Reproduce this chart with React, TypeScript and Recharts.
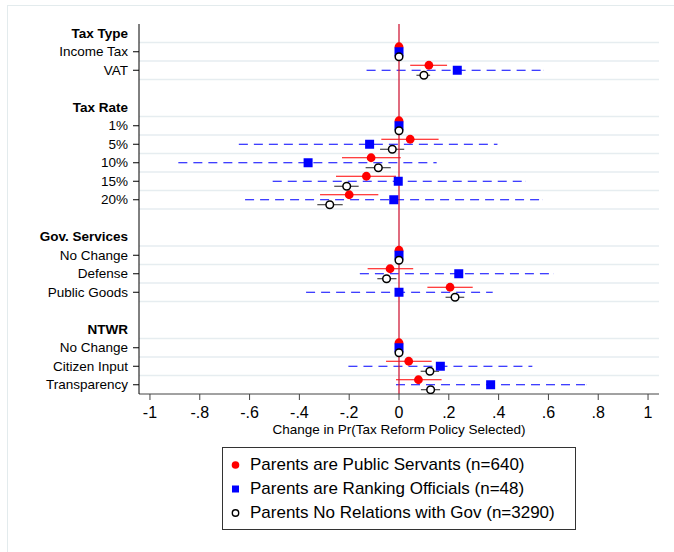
import React from 'react'
import { ScatterChart, Scatter, XAxis, YAxis, ErrorBar, ReferenceLine } from 'recharts'

// group headers and the rows under each one
const groupNames = ['Tax Type', 'Tax Rate', 'Gov. Services', 'NTWR']
const rowLabels = ['Income Tax', 'VAT', '1%', '5%', '10%', '15%', '20%', 'No Change', 'Defense', 'Public Goods', 'No Change', 'Citizen Input', 'Transparency']
const rowGroups = [0, 0, 1, 1, 1, 1, 1, 2, 2, 2, 3, 3, 3]

// Parents are Public Servants (n=640)
const servantEst = [0, 0.12, 0, 0.045, -0.112, -0.131, -0.2, 0, -0.036, 0.205, 0, 0.039, 0.078]
const servantLo = [0, 0.045, 0, -0.071, -0.229, -0.253, -0.317, 0, -0.126, 0.114, 0, -0.052, -0.012]
const servantHi = [0, 0.193, 0, 0.159, 0.007, -0.012, -0.083, 0, 0.057, 0.296, 0, 0.131, 0.171]

// Parents are Ranking Officials (n=48)
const officialEst = [0, 0.234, 0, -0.118, -0.365, -0.003, -0.021, 0, 0.24, 0, 0, 0.166, 0.368]
const officialLo = [0, -0.13, 0, -0.643, -0.886, -0.507, -0.618, 0, -0.157, -0.373, 0, -0.203, -0.012]
const officialHi = [0, 0.58, 0, 0.395, 0.151, 0.506, 0.577, 0, 0.62, 0.376, 0, 0.535, 0.751]

// Parents No Relations with Gov (n=3290)
const noRelEst = [0, 0.1, 0, -0.027, -0.083, -0.21, -0.278, 0, -0.05, 0.225, 0, 0.124, 0.127]
const noRelLo = [0, 0.07, 0, -0.076, -0.134, -0.26, -0.328, 0, -0.087, 0.187, 0, 0.087, 0.088]
const noRelHi = [0, 0.125, 0, 0.021, -0.033, -0.162, -0.226, 0, -0.01, 0.262, 0, 0.161, 0.165]

const xTicks = [-1, -0.8, -0.6, -0.4, -0.2, 0, 0.2, 0.4, 0.6, 0.8, 1]

const FONT = '"Liberation Sans", Arial, Helvetica, sans-serif'

// lay out slots: header, its rows, then a blank slot before the next group
const headerSlots: number[] = []
const rowSlots: number[] = []
let slot = 0
groupNames.forEach((_, g) => {
  headerSlots.push(slot)
  slot++
  rowGroups.forEach((rg) => {
    if (rg === g) {
      rowSlots.push(slot)
      slot++
    }
  })
  slot++
})
const lastSlot = slot - 2

const yTicks = [...headerSlots, ...rowSlots].sort((a, b) => a - b)
const tickText: Record<number, { text: string; header: boolean }> = {}
headerSlots.forEach((s, i) => (tickText[s] = { text: groupNames[i], header: true }))
rowSlots.forEach((s, i) => (tickText[s] = { text: rowLabels[i], header: false }))

// light lines below each header and each row
const gridLines = yTicks.filter((s) => s < lastSlot).map((s) => s + 0.5)

const makeSeries = (est: number[], lo: number[], hi: number[], shift: number) =>
  est.map((v, i) => ({ x: v, y: rowSlots[i] + shift, err: [v - lo[i], hi[i] - v] }))

const servantData = makeSeries(servantEst, servantLo, servantHi, -0.27)
const officialData = makeSeries(officialEst, officialLo, officialHi, 0)
const noRelData = makeSeries(noRelEst, noRelLo, noRelHi, 0.27)

const fmtX = (v: number) => {
  if (v === 0) return '0'
  if (Math.abs(v) === 1) return v < 0 ? '-1' : '1'
  return (v < 0 ? '-' : '') + Math.abs(v).toFixed(1).replace(/^0/, '')
}

const YTick = (props: any) => {
  const { x, y, payload } = props
  const info = tickText[payload.value]
  if (!info) return null
  return (
    <g>
      {!info.header && <line x1={x} x2={x + 6} y1={y} y2={y} stroke="#000" />}
      <text
        x={x - 5}
        y={y}
        dy="0.35em"
        textAnchor="end"
        fontSize={13.5}
        fontWeight={info.header ? 'bold' : 'normal'}
        fill="#000"
      >
        {info.text}
      </text>
    </g>
  )
}

const RedDot = (p: any) => <circle cx={p.cx} cy={p.cy} r={4.4} fill="#ff0000" />
const BlueSquare = (p: any) => <rect x={p.cx - 4.5} y={p.cy - 4.5} width={9} height={9} fill="#0000ff" />
const HollowDot = (p: any) => <circle cx={p.cx} cy={p.cy} r={3.8} fill="#fff" stroke="#000" strokeWidth={1.5} />

const legendItems = [
  { label: 'Parents are Public Servants (n=640)', kind: 'dot' },
  { label: 'Parents are Ranking Officials (n=48)', kind: 'square' },
  { label: 'Parents No Relations with Gov (n=3290)', kind: 'hollow' },
]

function LegendBox() {
  return (
    <div
      style={{
        position: 'absolute',
        left: 222,
        top: 447,
        width: 352,
        height: 81,
        border: '1px solid #333',
        background: '#fff',
      }}
    >
      {legendItems.map((item, i) => (
        <div
          key={item.label}
          style={{ position: 'absolute', left: 0, top: 5 + i * 24, height: 24, display: 'flex', alignItems: 'center' }}
        >
          <svg width={26} height={24} style={{ display: 'block' }}>
            {item.kind === 'dot' && <circle cx={12.5} cy={12} r={3.8} fill="#ff0000" />}
            {item.kind === 'square' && <rect x={9} y={8.5} width={7} height={7} fill="#0000ff" />}
            {item.kind === 'hollow' && <circle cx={12.5} cy={12} r={3.2} fill="#fff" stroke="#000" strokeWidth={1.4} />}
          </svg>
          <span style={{ fontSize: 17, color: '#000', whiteSpace: 'nowrap', marginLeft: 1 }}>{item.label}</span>
        </div>
      ))}
    </div>
  )
}

export default function App() {
  return (
    <div
      style={{
        position: 'absolute',
        left: 0,
        top: 0,
        width: 674,
        height: 552,
        overflow: 'hidden',
        background: '#fff',
        fontFamily: FONT,
      }}
    >
      {/* faint outer frame */}
      <div style={{ position: 'absolute', left: 7, top: 5, width: 700, height: 600, border: '1px solid #e3ebed' }} />

      <div style={{ position: 'absolute', left: 0, top: 0 }}>
        <ScatterChart width={674} height={552} margin={{ top: 24, right: 15, bottom: 113, left: 0 }}>
          <XAxis
            type="number"
            dataKey="x"
            domain={[-1.044, 1.044]}
            allowDataOverflow
            ticks={xTicks}
            tickFormatter={fmtX}
            tick={{ fontSize: 16, fill: '#000' }}
            tickSize={6}
            tickMargin={7}
            stroke="#444"
            height={45}
            label={{
              value: 'Change in Pr(Tax Reform Policy Selected)',
              position: 'insideBottom',
              offset: 5,
              fontSize: 13.5,
              fill: '#000',
            }}
          />
          <YAxis
            type="number"
            dataKey="y"
            domain={[-0.5, 19.5]}
            reversed
            allowDataOverflow
            ticks={yTicks}
            interval={0}
            width={139}
            tickSize={6}
            tickMargin={0}
            tickLine={false}
            tick={<YTick />}
            stroke="#000"
          />
          {gridLines.map((g) => (
            <ReferenceLine key={g} y={g} stroke="#e6edf0" strokeWidth={1.5} />
          ))}
          <Scatter data={servantData} shape={RedDot} isAnimationActive={false}>
            <ErrorBar dataKey="err" direction="x" width={0} stroke="#ff0000" strokeWidth={1.2} />
          </Scatter>
          <Scatter data={officialData} shape={BlueSquare} isAnimationActive={false}>
            <ErrorBar dataKey="err" direction="x" width={0} stroke="#0000ff" strokeWidth={1.2} strokeDasharray="9 6" />
          </Scatter>
          <Scatter data={noRelData} shape={HollowDot} isAnimationActive={false}>
            <ErrorBar dataKey="err" direction="x" width={0} stroke="#222" strokeWidth={1} />
          </Scatter>
          <ReferenceLine x={0} stroke="#d01c3a" strokeWidth={1.3} />
        </ScatterChart>
      </div>

      <LegendBox />
    </div>
  )
}
